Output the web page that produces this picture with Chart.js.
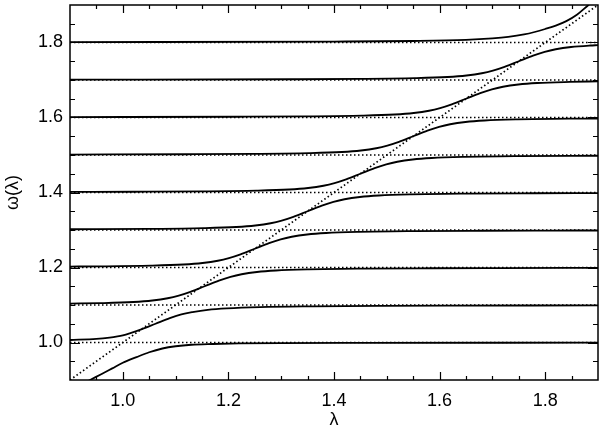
<!DOCTYPE html>
<html>
<head>
<meta charset="utf-8">
<script src="https://cdn.jsdelivr.net/npm/chart.js@4.4.0/dist/chart.umd.min.js"></script>
<style>
  html, body { margin: 0; padding: 0; background: #fff; }
</style>
</head>
<body>
<canvas id="chart" width="600" height="431"></canvas>
<script>
// Axis ticks
const majorTicks = [1.0, 1.2, 1.4, 1.6, 1.8];
const minorTicks = [0.95, 1.05, 1.1, 1.15, 1.25, 1.3, 1.35, 1.45, 1.5, 1.55, 1.65, 1.7, 1.75, 1.85];

// Uncoupled modes (dotted): flat levels and the diagonal omega = lambda
const levels = [1.0, 1.1, 1.2, 1.3, 1.4, 1.5, 1.6, 1.7, 1.8];
const diagLam = [0.9, 1.9];
const diagOmega = [0.9, 1.9];

// Coupled branches (solid)
const lam0 = [0.90, 0.938, 0.96, 0.98, 1.00, 1.026, 1.05, 1.075, 1.10, 1.13, 1.17, 1.22, 1.30, 1.45, 1.90];
const om0  = [0.872, 0.900, 0.916, 0.931, 0.946, 0.961, 0.974, 0.984, 0.990, 0.994, 0.996, 0.9975, 0.9985, 0.999, 0.9995];

const lam1 = [0.90, 0.95, 0.975, 0.99, 1.00, 1.013, 1.035, 1.062, 1.089, 1.111, 1.132, 1.161, 1.197, 1.26, 1.36, 1.49, 1.62, 1.90];
const om1  = [1.0067, 1.0095, 1.013, 1.0163, 1.0192, 1.0245, 1.035, 1.050, 1.065, 1.075, 1.081, 1.087, 1.091, 1.0945, 1.0965, 1.0977, 1.0983, 1.099];

const lam2 = [0.90, 0.958, 1.02, 1.056, 1.085, 1.106, 1.128, 1.155, 1.182, 1.204, 1.225, 1.254, 1.29, 1.352, 1.455, 1.585, 1.715, 1.90];
const om2  = [1.1037, 1.105, 1.108, 1.112, 1.118, 1.125, 1.135, 1.150, 1.165, 1.175, 1.182, 1.188, 1.192, 1.195, 1.197, 1.198, 1.1985, 1.199];

const lam3 = [0.90, 0.95, 1.053, 1.115, 1.151, 1.18, 1.201, 1.223, 1.25, 1.277, 1.299, 1.32, 1.349, 1.385, 1.447, 1.55, 1.68, 1.81, 1.90];
const om3  = [1.2025, 1.203, 1.205, 1.208, 1.212, 1.218, 1.225, 1.235, 1.250, 1.265, 1.275, 1.282, 1.288, 1.292, 1.295, 1.297, 1.298, 1.2985, 1.2987];

const lam4 = [0.90, 1.05, 1.153, 1.215, 1.251, 1.28, 1.301, 1.323, 1.35, 1.377, 1.399, 1.42, 1.449, 1.485, 1.547, 1.65, 1.78, 1.90];
const om4  = [1.302, 1.303, 1.305, 1.308, 1.312, 1.318, 1.325, 1.335, 1.350, 1.365, 1.375, 1.382, 1.388, 1.392, 1.395, 1.397, 1.398, 1.3985];

const lam5 = [0.90, 1.02, 1.15, 1.253, 1.315, 1.351, 1.38, 1.401, 1.423, 1.45, 1.477, 1.499, 1.52, 1.549, 1.585, 1.647, 1.75, 1.90];
const om5  = [1.4015, 1.402, 1.403, 1.405, 1.408, 1.412, 1.418, 1.425, 1.435, 1.450, 1.465, 1.475, 1.482, 1.488, 1.492, 1.495, 1.497, 1.498];

const lam6 = [0.90, 1.12, 1.25, 1.353, 1.415, 1.451, 1.48, 1.501, 1.523, 1.55, 1.577, 1.599, 1.62, 1.649, 1.685, 1.747, 1.85, 1.90];
const om6  = [1.5012, 1.502, 1.503, 1.505, 1.508, 1.512, 1.518, 1.525, 1.535, 1.550, 1.565, 1.575, 1.582, 1.588, 1.592, 1.595, 1.597, 1.5973];

const lam7 = [0.90, 1.22, 1.35, 1.453, 1.515, 1.551, 1.58, 1.601, 1.623, 1.65, 1.677, 1.699, 1.72, 1.749, 1.785, 1.847, 1.90];
const om7  = [1.601, 1.602, 1.603, 1.605, 1.608, 1.612, 1.618, 1.625, 1.635, 1.650, 1.665, 1.675, 1.682, 1.688, 1.692, 1.695, 1.6965];

const lam8 = [0.90, 1.32, 1.45, 1.553, 1.615, 1.651, 1.68, 1.701, 1.723, 1.75, 1.777, 1.799, 1.82, 1.849, 1.885, 1.90];
const om8  = [1.701, 1.702, 1.703, 1.705, 1.708, 1.712, 1.718, 1.725, 1.735, 1.750, 1.765, 1.775, 1.782, 1.788, 1.792, 1.793];

const lam9 = [0.90, 1.40, 1.55, 1.65, 1.70, 1.73, 1.76, 1.78, 1.80, 1.82, 1.84, 1.86, 1.882, 1.91];
const om9  = [1.801, 1.8025, 1.804, 1.807, 1.811, 1.815, 1.8215, 1.828, 1.836, 1.845, 1.857, 1.874, 1.900, 1.930];

const branches = [[lam0, om0], [lam1, om1], [lam2, om2], [lam3, om3], [lam4, om4],
                  [lam5, om5], [lam6, om6], [lam7, om7], [lam8, om8], [lam9, om9]];

const font = { family: '"Liberation Sans", Arial, sans-serif', size: 18 };

function pts(xs, ys) {
    return xs.map((x, i) => ({ x: x, y: ys[i] }));
}

const datasets = [];

// dotted levels
levels.forEach(L => {
    datasets.push({
        data: [{ x: 0.9, y: L }, { x: 1.9, y: L }],
        borderColor: '#000', borderWidth: 1.7, borderDash: [1.5, 2.5],
        pointRadius: 0, clip: 0
    });
});
// dotted diagonal
datasets.push({
    data: pts(diagLam, diagOmega),
    borderColor: '#000', borderWidth: 1.7, borderDash: [1.5, 2.5],
    pointRadius: 0, clip: 0
});
// solid branches
branches.forEach(b => {
    datasets.push({
        data: pts(b[0], b[1]),
        borderColor: '#000', borderWidth: 1.8,
        cubicInterpolationMode: 'monotone',
        pointRadius: 0, clip: 0
    });
});

// box frame with inward ticks on all four sides
const frameTicks = {
    id: 'frameTicks',
    afterDraw(chart) {
        const { ctx, chartArea: a, scales: { x, y } } = chart;
        ctx.save();
        ctx.strokeStyle = '#000';
        ctx.lineWidth = 1.5;
        ctx.strokeRect(a.left, a.top, a.right - a.left, a.bottom - a.top);
        ctx.lineWidth = 1.2;
        ctx.beginPath();
        function xMark(v, len) {
            const px = Math.round(x.getPixelForValue(v)) + 0.5;
            ctx.moveTo(px, a.bottom); ctx.lineTo(px, a.bottom - len);
            ctx.moveTo(px, a.top); ctx.lineTo(px, a.top + len);
        }
        function yMark(v, len) {
            const py = Math.round(y.getPixelForValue(v)) + 0.5;
            ctx.moveTo(a.left, py); ctx.lineTo(a.left + len, py);
            ctx.moveTo(a.right, py); ctx.lineTo(a.right - len, py);
        }
        majorTicks.forEach(v => { xMark(v, 8); yMark(v, 10); });
        minorTicks.forEach(v => { xMark(v, 4); yMark(v, 5); });
        ctx.stroke();
        ctx.restore();
    }
};

new Chart(document.getElementById('chart'), {
    type: 'line',
    data: { datasets: datasets },
    options: {
        responsive: false,
        animation: false,
        layout: { padding: { top: 5, right: 2, left: 0, bottom: 0 } },
        plugins: { legend: { display: false }, tooltip: { enabled: false } },
        scales: {
            x: {
                type: 'linear', min: 0.9, max: 1.9,
                afterBuildTicks: s => { s.ticks = majorTicks.map(v => ({ value: v })); },
                afterFit: s => { s.height = 51; s.paddingLeft = 0; s.paddingRight = 0; },
                grid: { display: false, drawTicks: false },
                border: { display: false },
                ticks: { callback: v => v.toFixed(1), font: font, color: '#000', padding: 10, maxRotation: 0, autoSkip: false },
                title: { display: true, text: 'λ', font: font, color: '#000', padding: { top: 0, bottom: 0 } }
            },
            y: {
                type: 'linear', min: 0.9, max: 1.9,
                afterBuildTicks: s => { s.ticks = majorTicks.map(v => ({ value: v })); },
                afterFit: s => { s.width = 70; s.paddingTop = 0; s.paddingBottom = 0; },
                grid: { display: false, drawTicks: false },
                border: { display: false },
                ticks: { callback: v => v.toFixed(1), font: font, color: '#000', padding: 7, autoSkip: false },
                title: { display: true, text: 'ω(λ)', font: font, color: '#000', padding: { top: 2, bottom: 0 } }
            }
        }
    },
    plugins: [frameTicks]
});
</script>
</body>
</html>
